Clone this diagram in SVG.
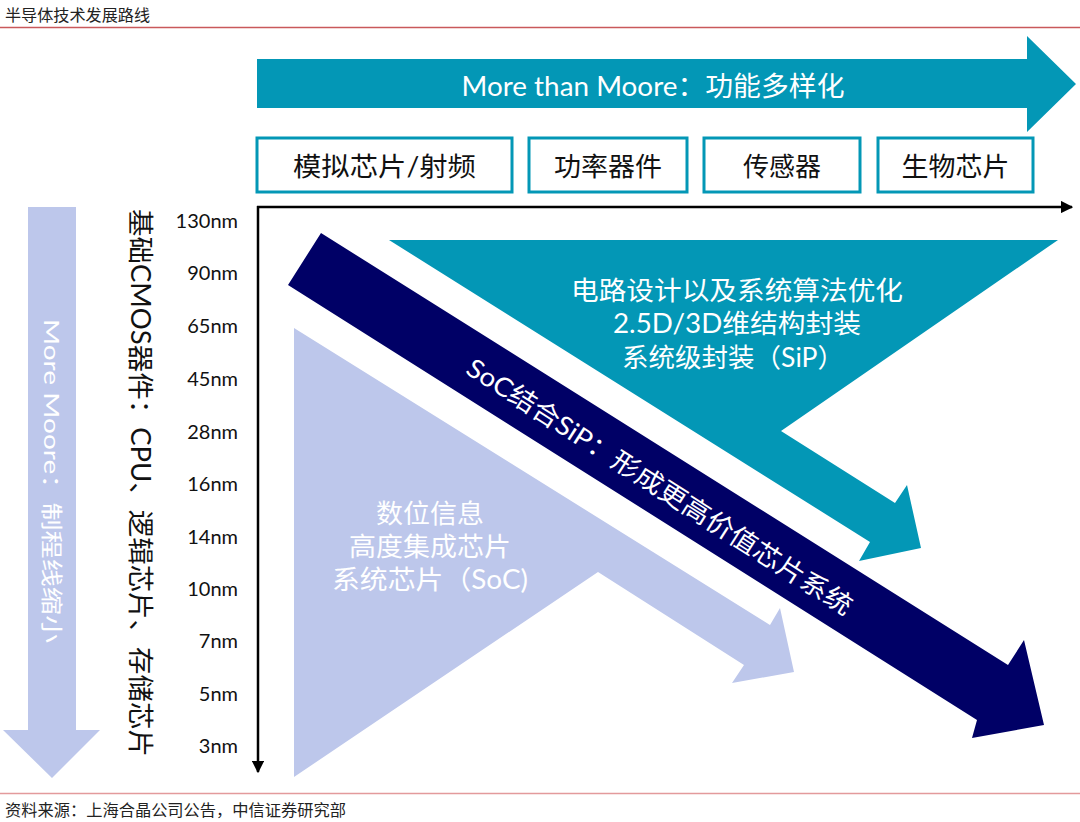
<svg xmlns="http://www.w3.org/2000/svg" width="1080" height="822" viewBox="0 0 1080 822">
<defs>
<style>
.cjk{font-family:Lato,"Noto Sans CJK SC",sans-serif;}
.w{fill:#ffffff;}
.k{fill:#111111;}
.box{fill:#ffffff;stroke:#0397b6;stroke-width:3;}
.axis{stroke:#000000;stroke-width:2.5;fill:none;}
.nm{font-family:Lato,"Noto Sans",sans-serif;font-size:20px;fill:#111111;text-anchor:end;}
</style>
<marker id="ah" viewBox="0 0 10 10" refX="9" refY="5" markerWidth="5" markerHeight="5" orient="auto" markerUnits="strokeWidth">
<path d="M0,0 L10,5 L0,10 Z" fill="#000000"/>
</marker>
</defs>
<rect x="0" y="0" width="1080" height="822" fill="#ffffff"/>

<g id="header">
<text x="5" y="21" class="cjk" font-size="16" fill="#222222" textLength="145" lengthAdjust="spacingAndGlyphs">半导体技术发展路线</text>
<line x1="0" y1="27.5" x2="1080" y2="27.5" stroke="#c9595b" stroke-width="1.5"/>
</g>

<g id="footer">
<line x1="0" y1="793.5" x2="1080" y2="793.5" stroke="#e39a9c" stroke-width="1.5"/>
<text x="5" y="816" class="cjk" font-size="16" fill="#222222" textLength="341" lengthAdjust="spacingAndGlyphs">资料来源：上海合晶公司公告，中信证券研究部</text>
</g>

<g id="more-than-moore">
<polygon points="257,59 1027,59 1027,36 1076,84 1027,132 1027,108 257,108" fill="#0397b6"/>
<text x="653" y="85" class="cjk w" font-size="27" text-anchor="middle" dominant-baseline="central" textLength="383" lengthAdjust="spacingAndGlyphs">More than Moore：功能多样化</text>
</g>

<g id="box-analog">
<rect x="257" y="138" width="255" height="54" class="box"/>
<text x="384.5" y="166" class="cjk k" font-size="26" text-anchor="middle" dominant-baseline="central" textLength="183" lengthAdjust="spacingAndGlyphs">模拟芯片/射频</text>
</g>
<g id="box-power">
<rect x="529" y="138" width="158" height="54" class="box"/>
<text x="608" y="166" class="cjk k" font-size="26" text-anchor="middle" dominant-baseline="central" textLength="108" lengthAdjust="spacingAndGlyphs">功率器件</text>
</g>
<g id="box-sensor">
<rect x="704" y="138" width="156" height="54" class="box"/>
<text x="782" y="166" class="cjk k" font-size="26" text-anchor="middle" dominant-baseline="central">传感器</text>
</g>
<g id="box-bio">
<rect x="878" y="138" width="155" height="54" class="box"/>
<text x="955.5" y="166" class="cjk k" font-size="26" text-anchor="middle" dominant-baseline="central" textLength="108" lengthAdjust="spacingAndGlyphs">生物芯片</text>
</g>

<g id="more-moore">
<polygon points="28,207 76,207 76,730 100,730 52,778 3,730 28,730" fill="#bdc7eb"/>
<text transform="translate(52,481) rotate(90)" class="cjk w" font-size="22" text-anchor="middle" dominant-baseline="central" textLength="324" lengthAdjust="spacingAndGlyphs">More Moore：制程线缩小</text>
</g>

<g id="cmos-label">
<text transform="translate(141,483) rotate(90)" class="cjk k" font-size="26" text-anchor="middle" dominant-baseline="central" textLength="548" lengthAdjust="spacingAndGlyphs">基础CMOS器件：CPU、逻辑芯片、存储芯片</text>
</g>

<g id="nodes-nm">
<text x="238" y="228" class="nm">130nm</text>
<text x="238" y="280" class="nm">90nm</text>
<text x="238" y="333" class="nm">65nm</text>
<text x="238" y="386" class="nm">45nm</text>
<text x="238" y="439" class="nm">28nm</text>
<text x="238" y="491" class="nm">16nm</text>
<text x="238" y="544" class="nm">14nm</text>
<text x="238" y="596" class="nm">10nm</text>
<text x="238" y="648" class="nm">7nm</text>
<text x="238" y="701" class="nm">5nm</text>
<text x="238" y="753" class="nm">3nm</text>
</g>

<g id="connectors">
<line x1="257" y1="207" x2="1072" y2="207" class="axis" marker-end="url(#ah)"/>
<line x1="258" y1="206" x2="258" y2="772" class="axis" marker-end="url(#ah)"/>
</g>

<g id="sip-arrow">
<polygon points="389,240 1058,240 781,431 895,503 907,485 921,548 859,561 870,542" fill="#0397b6"/>
<text x="737" y="290" class="cjk w" font-size="26" text-anchor="middle" dominant-baseline="central" textLength="332" lengthAdjust="spacingAndGlyphs">电路设计以及系统算法优化</text>
<text x="737" y="323" class="cjk w" font-size="26" text-anchor="middle" dominant-baseline="central" textLength="248" lengthAdjust="spacingAndGlyphs">2.5D/3D维结构封装</text>
<text x="733" y="357" class="cjk w" font-size="26" text-anchor="middle" dominant-baseline="central" textLength="222" lengthAdjust="spacingAndGlyphs">系统级封装（SiP）</text>
</g>

<g id="soc-arrow">
<polygon points="294,328 770,625 780,608 794,672 732,683 744,665 598,572 294,777" fill="#bdc7eb"/>
<text x="430" y="513" class="cjk w" font-size="26" text-anchor="middle" dominant-baseline="central" textLength="108" lengthAdjust="spacingAndGlyphs">数位信息</text>
<text x="430" y="546" class="cjk w" font-size="26" text-anchor="middle" dominant-baseline="central" textLength="162" lengthAdjust="spacingAndGlyphs">高度集成芯片</text>
<text x="430" y="579" class="cjk w" font-size="26" text-anchor="middle" dominant-baseline="central" textLength="196" lengthAdjust="spacingAndGlyphs">系统芯片（SoC)</text>
</g>

<g id="soc-sip-arrow">
<polygon points="321,233 1008,665 1024,640 1044,725 972,738 977,720 288,285" fill="#000066"/>
<text transform="translate(660,486) rotate(32.6)" class="cjk w" font-size="26" text-anchor="middle" dominant-baseline="central" textLength="452" lengthAdjust="spacingAndGlyphs">SoC结合SiP：形成更高价值芯片系统</text>
</g>
</svg>
